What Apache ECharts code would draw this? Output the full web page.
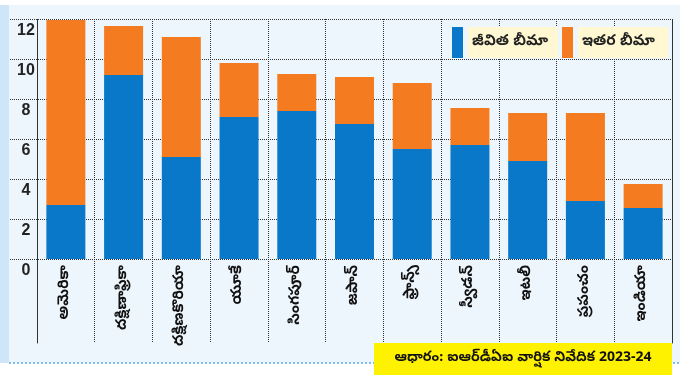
<!DOCTYPE html>
<html><head><meta charset="utf-8">
<script src="https://cdn.jsdelivr.net/npm/echarts@6/dist/echarts.min.js"></script>
<style>html,body{margin:0;padding:0;background:#fff}#c{width:680px;height:381px}</style>
</head><body><div id="c"></div>
<script>
const categories = ['అమెరికా','దక్షిణాఫ్రికా','దక్షిణకొరియా','యూకే','సింగపూర్','జపాన్','ఫ్రాన్స్','స్వీడన్','ఇటలీ','ప్రపంచం','ఇండియా'];
const lifeInsurance  = [2.7, 9.2, 5.1, 7.1, 7.4, 6.75, 5.5, 5.7, 4.9, 2.9, 2.55];
const otherInsurance = [9.25, 2.45, 6.0, 2.7, 1.85, 2.35, 3.3, 1.85, 2.4, 4.4, 1.2];
const seriesNames = ['జీవిత బీమా', 'ఇతర బీమా'];
const yMin = 0, yMax = 12, yStep = 2;
const sourceText = 'ఆధారం: ఐఆర్‌డీఏఐ వార్షిక నివేదిక 2023-24';

const chart = echarts.init(document.getElementById('c'), null, {renderer: 'canvas'});
const dotted = {type: 'dotted', color: '#333', width: 1};
const font = '"Noto Sans Telugu","Noto Sans", sans-serif';
chart.setOption({
  animation: false,
  backgroundColor: '#ffffff',
  graphic: [
    {type: 'rect', z: -10, shape: {x: 9, y: 5, width: 671, height: 358}, style: {fill: '#eef6fd'}},
    {type: 'rect', z: -10, shape: {x: 0, y: 5, width: 9, height: 358}, style: {fill: '#cfe6f8'}},
    {type: 'line', z: -5, shape: {x1: 9, y1: 363, x2: 680, y2: 363}, style: {stroke: '#5aa9e6', lineWidth: 1.5, lineDash: [2, 2]}},
    {type: 'rect', z: 50, shape: {x: 374, y: 343, width: 298, height: 32}, style: {fill: '#fff200'}},
    {type: 'text', z: 51, x: 523, y: 359, style: {text: sourceText, fill: '#111', font: 'bold 14px ' + font, textAlign: 'center', textVerticalAlign: 'middle'}}
  ],
  legend: {
    left: 452, top: 27, padding: 0, itemWidth: 11, itemHeight: 31, itemGap: 4, selectedMode: false,
    icon: 'rect',
    data: seriesNames,
    textStyle: {backgroundColor: '#fff8d2', width: 82, height: 31, lineHeight: 31, padding: [0, 4], fontSize: 15, fontWeight: 'bold', color: '#222', fontFamily: font}
  },
  grid: [
    {left: 37, right: 8, top: 19, bottom: 122},
    {left: 37, right: 8, top: 259, bottom: 38},
    {left: 10, right: 8, top: 19, bottom: 122}
  ],
  xAxis: [
    {type: 'category', gridIndex: 0, data: categories,
     axisLine: {show: false}, axisTick: {show: false},
     splitLine: {show: true, interval: 0, lineStyle: dotted},
     axisLabel: {rotate: 90, interval: 0, margin: 6, fontSize: 15, fontWeight: 'bold', color: '#111', fontFamily: font}},
    {type: 'category', gridIndex: 1, data: categories,
     axisLine: {show: false}, axisTick: {show: false}, axisLabel: {show: false},
     splitLine: {show: true, interval: 0, lineStyle: dotted}},
    {type: 'category', gridIndex: 2, data: categories, show: false}
  ],
  yAxis: [
    {type: 'value', gridIndex: 0, min: yMin, max: yMax, interval: yStep,
     axisLine: {show: true, lineStyle: dotted}, axisTick: {show: false},
     splitLine: {show: false},
     axisLabel: {margin: 11, align: 'center', verticalAlign: 'top', padding: [4, 0, 0, 0], fontSize: 16, fontWeight: 'bold', color: '#222', fontFamily: 'Liberation Sans, Arial, sans-serif'}},
    {type: 'value', gridIndex: 1, axisLine: {show: true, lineStyle: dotted}, axisTick: {show: false}, axisLabel: {show: false}, splitLine: {show: false}},
    {type: 'value', gridIndex: 2, min: yMin, max: yMax, interval: yStep,
     axisLine: {show: false}, axisTick: {show: false}, axisLabel: {show: false},
     splitLine: {show: true, lineStyle: dotted}},
    {type: 'value', gridIndex: 0, position: 'right', min: yMin, max: yMax, interval: yStep,
     axisLine: {show: true, lineStyle: dotted}, axisTick: {show: false}, axisLabel: {show: false}, splitLine: {show: false}},
    {type: 'value', gridIndex: 1, position: 'right',
     axisLine: {show: true, lineStyle: dotted}, axisTick: {show: false}, axisLabel: {show: false}, splitLine: {show: false}}
  ],
  series: [
    {name: seriesNames[0], type: 'bar', stack: 'a', data: lifeInsurance, barWidth: 39, itemStyle: {color: '#0a78c8'}},
    {name: seriesNames[1], type: 'bar', stack: 'a', data: otherInsurance, barWidth: 39, itemStyle: {color: '#f47b20'}}
  ]
});
</script></body></html>
